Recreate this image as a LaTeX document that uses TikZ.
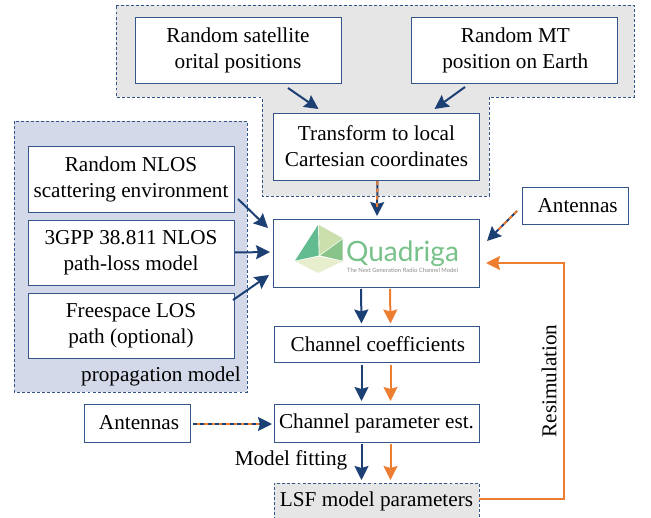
\documentclass[tikz,border=0pt]{standalone}
\usepackage{fontspec}
\setmainfont{Liberation Serif}
\newfontfamily\logofont{Lato}
\usetikzlibrary{arrows.meta,calc}
\definecolor{navy}{HTML}{1C3F74}
\definecolor{edge}{HTML}{34558A}
\definecolor{orng}{HTML}{ED7D31}
\definecolor{greybg}{HTML}{E6E6E6}
\definecolor{bluebg}{HTML}{D3D9E9}
\definecolor{logog}{HTML}{78C28A}
\definecolor{facea}{HTML}{62BC90}
\definecolor{faceb}{HTML}{CADFAC}
\definecolor{facec}{HTML}{88C48A}
\definecolor{faced}{HTML}{E6EECE}
\def\px{0.75pt}
\tikzset{
  box/.style={draw=edge,line width=0.75pt,fill=white,inner sep=0pt,outer sep=0pt,align=center,font=\fontsize{15.9}{19.5}\selectfont},
  plain/.style={inner sep=0pt,font=\fontsize{15.9}{19.5}\selectfont},
  region/.style={draw=edge,line width=0.7pt,dash pattern=on 2.2pt off 1.6pt},
  arn/.style={-{Stealth[length=10.5pt,width=10.5pt,inset=1.5pt]},draw=navy,line width=1.5pt},
  aro/.style={-{Stealth[length=10.5pt,width=10.5pt,inset=1.5pt]},draw=orng,line width=1.5pt},
  dashover/.style={draw=orng,line width=1.5pt,dash pattern=on 3pt off 2.5pt},
}
\begin{document}
\begin{tikzpicture}[x=0.75pt,y=-0.75pt]
\useasboundingbox (0,0) rectangle (651,518);
% regions
\path[region,fill=greybg] (116,5) -- (634,5) -- (634,97) -- (489,97) -- (489,196) -- (262,196) -- (262,97) -- (116,97) -- cycle;
\path[region,fill=bluebg] (14,121) rectangle (247,392);
\node[plain] (proplabel) at (161,376) {propagation model};
% boxes
\node[box,minimum width=206*\px,minimum height=66*\px] (sat) at (238,50) {Random satellite\\orital positions};
\node[box,minimum width=206*\px,minimum height=66*\px] (mt) at (514,50) {\hspace{2pt}Random MT\\\hspace{2pt}position on Earth};
\node[box,minimum width=206*\px,minimum height=67*\px] (trans) at (376.5,146.5) {Transform to local\\Cartesian coordinates};
\node[box,minimum width=206*\px,minimum height=66*\px] (nlos) at (131,179) {Random NLOS\\scattering environment};
\node[box,minimum width=206*\px,minimum height=65*\px] (gpp) at (131,252.5) {3GPP 38.811 NLOS\\path-loss model};
\node[box,minimum width=206*\px,minimum height=65*\px] (free) at (131,325.5) {Freespace LOS\\path (optional)};
\node[box,minimum width=206*\px,minimum height=68*\px] (quad) at (376,253) {};
\node[box,minimum width=205*\px,minimum height=36*\px] (coef) at (376.5,344.5) {\hspace{2pt}Channel coefficients};
\node[box,minimum width=205*\px,minimum height=38*\px] (par) at (376.5,423) {Channel parameter est.};
\node[box,minimum width=205*\px,minimum height=37*\px,fill=greybg,line width=0.7pt,dash pattern=on 2.2pt off 1.6pt] (lsf) at (376.5,501.5) {LSF model parameters};
\node[box,minimum width=106*\px,minimum height=38*\px] (antl) at (137,423) {\hspace{3pt}Antennas};
\node[box,minimum width=106*\px,minimum height=37*\px] (antr) at (575,205.5) {\hspace{4pt}Antennas};
% logo
\fill[facea] (318,225) -- (318.7,255.5) -- (295,260.7) -- cycle;
\fill[faceb] (319,225) -- (342.7,238.3) -- (319.5,255) -- cycle;
\fill[facec] (342.7,239.3) -- (342.7,260.7) -- (320.3,255.5) -- cycle;
\fill[faced] (295.5,261.2) -- (319,256.5) -- (342.5,261.3) -- (318,273) -- cycle;
\node[inner sep=0pt,text=logog,font=\logofont\fontsize{21}{21}\selectfont] (logo) at (402.5,254) {Quadriga};
\node[inner sep=0pt,text=black!45,font=\logofont\fontsize{4.4}{5}\selectfont] (tag) at (402.5,270) {The Next Generation Radio Channel Model};
% labels
\node[plain] (fit) at (291,460) {Model fitting};
\node[plain,rotate=90] (resim) at (549,381) {Resimulation};
\coordinate (corner) at (564,263);
% arrows
\draw[arn] ([xshift=50*\px,yshift=-5*\px]sat.south) -- ([xshift=-58*\px,yshift=4*\px]trans.north);
\draw[arn] ([xshift=-49*\px,yshift=-4*\px]mt.south) -- ([xshift=58*\px,yshift=4*\px]trans.north);
\draw[arn] ([xshift=1*\px,yshift=-1*\px]trans.south) -- ([xshift=1*\px,yshift=3*\px]quad.north);
\draw[dashover] ([xshift=1*\px,yshift=-1*\px]trans.south) -- ([xshift=1*\px,yshift=12*\px]quad.north);
\draw[arn] ([xshift=4*\px,yshift=13*\px]nlos.south east) -- ([xshift=-5*\px,yshift=-9*\px]quad.north west);
\draw[arn] ([xshift=1*\px]gpp.east) -- ([xshift=-3*\px,yshift=1*\px]quad.west);
\draw[arn] ([xshift=-1*\px,yshift=-7*\px]free.north east) -- ([xshift=-4*\px,yshift=-22*\px]quad.west);
\draw[arn] ([xshift=-5*\px,yshift=13*\px]antr.south west) -- ([xshift=8*\px,yshift=12*\px]quad.east);
\draw[dashover] ([xshift=-5*\px,yshift=13*\px]antr.south west) -- ([xshift=18*\px,yshift=22*\px]quad.east);
\draw[arn] ([xshift=3*\px,yshift=-1*\px]antl.east) -- ([xshift=-2*\px,yshift=-1*\px]par.west);
\draw[draw=orng,line width=1.5pt] ([xshift=3*\px,yshift=-1*\px]antl.east) -- ([xshift=-14*\px,yshift=-1*\px]par.west);
\draw[draw=navy,line width=1.5pt,dash pattern=on 3pt off 2.5pt] ([xshift=3*\px,yshift=-1*\px]antl.east) -- ([xshift=-14*\px,yshift=-1*\px]par.west);
\foreach \a/\b in {quad/coef,coef/par,par/lsf}{
  \draw[arn] ([xshift=-15*\px,yshift=-2*\px]\a.south) -- ([xshift=-15*\px,yshift=3*\px]\b.north);
  \draw[aro] ([xshift=14*\px,yshift=-2*\px]\a.south) -- ([xshift=14*\px,yshift=3*\px]\b.north);
}
\draw[aro,line join=miter] ([yshift=3*\px]lsf.east) -| (corner) -- ([xshift=7*\px,yshift=-10*\px]quad.east);
\end{tikzpicture}
\end{document}
